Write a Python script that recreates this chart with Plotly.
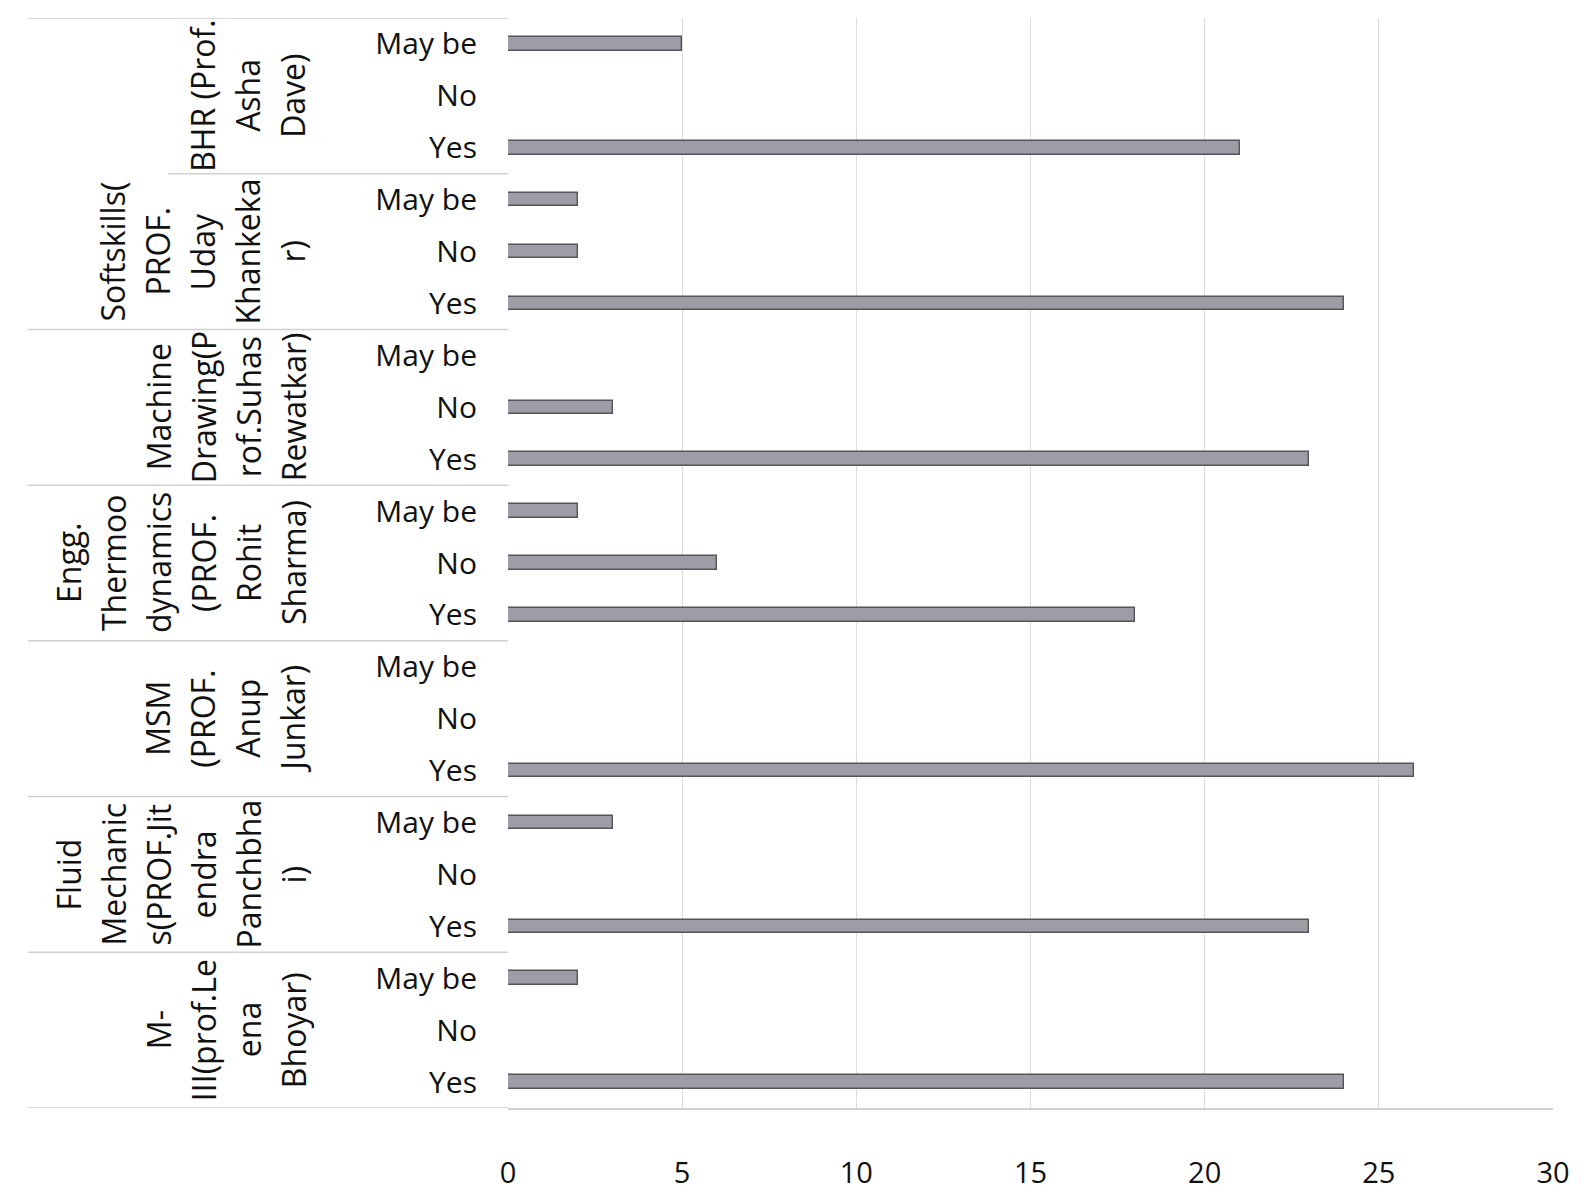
import plotly.graph_objects as go

# ---- data (groups listed top to bottom) ----
subjects = [
    "BHR (Prof. Asha Dave)",
    "Softskills( PROF. Uday Khankekar)",
    "Machine Drawing(Prof.Suhas Rewatkar)",
    "Engg. Thermoodynamics (PROF. Rohit Sharma)",
    "MSM (PROF. Anup Junkar)",
    "Fluid Mechanics(PROF.Jitendra Panchbhai)",
    "M-III(prof.Leena Bhoyar)",
]
subject_lines = [
    ["BHR (Prof.", "Asha", "Dave)"],
    ["Softskills(", "PROF.", "Uday", "Khankeka", "r)"],
    ["Machine", "Drawing(P", "rof.Suhas", "Rewatkar)"],
    ["Engg.", "Thermoo", "dynamics", "(PROF.", "Rohit", "Sharma)"],
    ["MSM", "(PROF.", "Anup", "Junkar)"],
    ["Fluid", "Mechanic", "s(PROF.Jit", "endra", "Panchbha", "i)"],
    ["M-", "III(prof.Le", "ena", "Bhoyar)"],
]
answers = ["May be", "No", "Yes"]  # top to bottom within each group
maybe = [5, 2, 0, 2, 0, 3, 2]
no = [0, 2, 3, 6, 0, 0, 0]
yes = [21, 24, 23, 18, 26, 23, 24]
x_ticks = [0, 5, 10, 15, 20, 25, 30]

# ---- build rows ----
n_rows = len(subjects) * len(answers)
vals_by_answer = {"May be": maybe, "No": no, "Yes": yes}
ys, xs, labels = [], [], []
for gi, subj in enumerate(subjects):
    for ai, ans in enumerate(answers):
        row = gi * len(answers) + ai
        ys.append(n_rows - 1 - row)
        xs.append(vals_by_answer[ans][gi])
        labels.append(ans)

FONT = "Open Sans"
TXT = "#111111"

fig = go.Figure(go.Bar(
    x=xs, y=ys, orientation="h", width=0.26,
    marker=dict(color="#9d9da5", line=dict(color="#55555d", width=1.4)),
    hoverinfo="x",
))

L, R, T, B = 500, 46, 10, 95
W, H = 1591, 1195
plot_w = W - L - R

def px_to_paper(px):
    return (px - L) / plot_w

annotations = []
shapes = []
for gi, lines in enumerate(subject_lines):
    center_row = gi * len(answers) + 1
    yc = n_rows - 1 - center_row
    n = len(lines)
    for li, txt in enumerate(lines):
        xpx = 285 - (n - 1 - li) * 45
        annotations.append(dict(
            text=txt, x=px_to_paper(xpx), y=yc, xref="paper", yref="y",
            textangle=-90, showarrow=False, xanchor="center", yanchor="middle",
            font=dict(family=FONT, size=32, color=TXT),
        ))
# group separators in the label column
for gi in range(len(subjects) + 1):
    yb = n_rows - 0.5 - gi * len(answers)
    x_start = 160 if gi == 1 else 20
    shapes.append(dict(
        type="line", xref="paper", yref="y",
        x0=px_to_paper(x_start), x1=0, y0=yb, y1=yb,
        line=dict(color="#d0d0d0", width=1.5),
    ))

fig.update_layout(
    width=W, height=H,
    margin=dict(l=L, r=R, t=T, b=B),
    paper_bgcolor="white", plot_bgcolor="white",
    showlegend=False,
    bargap=0,
    annotations=annotations,
    shapes=shapes,
    xaxis=dict(
        range=[0, 30], tickvals=x_ticks, ticktext=[str(v) for v in x_ticks],
        showgrid=True, gridcolor="#dcdcdc", gridwidth=1,
        zeroline=False, showline=True, linecolor="#d0d0d0", linewidth=1.5,
        ticks="", ticklabelstandoff=38,
        tickfont=dict(family=FONT, size=29, color=TXT),
    ),
    yaxis=dict(
        range=[-0.5, n_rows - 0.5], tickvals=ys, ticktext=labels,
        showgrid=False, zeroline=False, showline=False, ticks="",
        ticklabelstandoff=30,
        tickfont=dict(family=FONT, size=30, color=TXT),
    ),
)

fig.write_html("out.html")
